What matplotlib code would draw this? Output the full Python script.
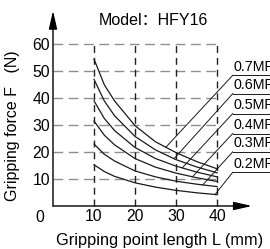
import numpy as np
import matplotlib.pyplot as plt

plt.rcParams['font.family'] = ['Liberation Sans', 'Noto Sans CJK SC', 'DejaVu Sans']

# gripping force (N) vs gripping point length L (mm)
L = [10, 12.5, 15, 20, 25, 30, 35, 40]
F07 = [54.5, 45.0, 39.0, 29.8, 23.8, 19.8, 16.5, 13.8]
F06 = [47.0, 39.0, 33.5, 25.8, 20.8, 17.2, 14.5, 12.3]
F05 = [39.0, 32.5, 28.0, 21.7, 17.6, 14.8, 12.6, 10.8]
F04 = [31.5, 26.3, 22.7, 17.6, 14.4, 12.2, 10.5, 9.1]
F03 = [23.0, 19.2, 16.7, 13.0, 10.8, 9.2, 8.1, 7.2]
F02 = [15.3, 12.8, 11.0, 8.6, 7.0, 5.8, 4.9, 4.2]
curves = [F07, F06, F05, F04, F03, F02]
labels = ["0.7MPa", "0.6MPa", "0.5MPa", "0.4MPa", "0.3MPa", "0.2MPa"]
leader_L = [27.5, 29.5, 31.5, 34.0, 36.5, 39.5]
label_y = [48.5, 41.7, 34.3, 26.9, 20.1, 12.5]
xticks = [10, 20, 30, 40]
yticks = [10, 20, 30, 40, 50, 60]

fig = plt.figure(figsize=(2.7, 2.49), dpi=100)
ax = fig.add_axes([53/270, 43/249, 199/270, 194/249])
ax.set_xlim(0, 48.5)
ax.set_ylim(0, 72)
for s in ax.spines.values():
    s.set_visible(False)

# grid
for y in yticks:
    ax.plot([0, 40], [y, y], color='#8f8f8f', lw=1.0, dashes=(7, 4), clip_on=False)
for x in xticks:
    ax.plot([x, x], [0, 60], color='#222222', lw=1.0, dashes=(5, 3.5), clip_on=False)

# axes with arrows
ax.annotate('', xy=(0, 72.5), xytext=(0, 0),
            arrowprops=dict(arrowstyle='-|>,head_length=1.1,head_width=0.25',
                            color='black', lw=1.0, mutation_scale=10, shrinkA=0, shrinkB=0),
            annotation_clip=False)
ax.annotate('', xy=(48.5, 0), xytext=(0, 0),
            arrowprops=dict(arrowstyle='-|>,head_length=1.1,head_width=0.25',
                            color='black', lw=1.0, mutation_scale=10, shrinkA=0, shrinkB=0),
            annotation_clip=False)

# curves
for c in curves:
    ax.plot(L, c, color='#1a1a1a', lw=0.9, clip_on=False)

# leaders and labels
for c, lab, lx, ly in zip(curves, labels, leader_L, label_y):
    cy = np.interp(lx, L, c)
    ax.plot([lx, 43.8], [cy, ly], color='#1a1a1a', lw=0.7, clip_on=False)
    ax.plot([43.8, 60], [ly, ly], color='#1a1a1a', lw=0.7, clip_on=False)
    ax.text(44.0, ly + 0.6, lab, fontsize=10.3, ha='left', va='bottom', clip_on=False)

ax.set_xticks(xticks)
ax.set_yticks(yticks)
ax.tick_params(length=0, labelsize=11.3, pad=2)
ax.text(-3.2, -4.2, '0', fontsize=11.3, ha='center', va='center')

fig.text(153/270, 1 - 20/249, 'Model：HFY16', fontsize=11.5, ha='center', va='center')
fig.text(13/270, 1 - 126/249, 'Gripping force F   (N)', fontsize=11.5, rotation=90,
         ha='center', va='center')
fig.text(160/270, 1 - 240/249, 'Gripping point length L (mm)', fontsize=11.8,
         ha='center', va='center')

fig.savefig('out.png', dpi=100)
